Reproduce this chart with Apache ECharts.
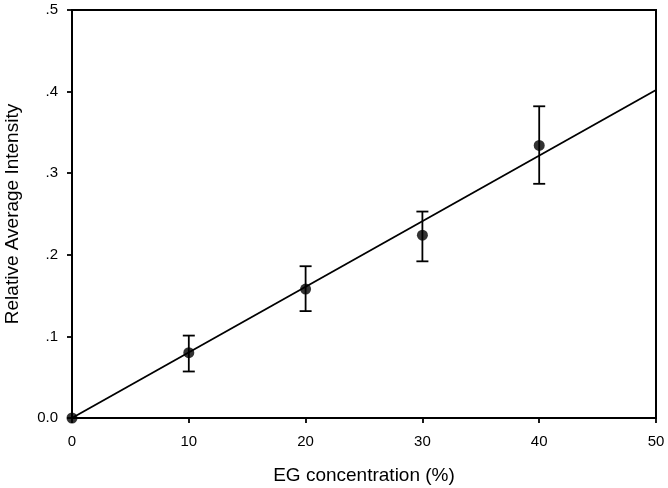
<!DOCTYPE html>
<html><head><meta charset="utf-8">
<script src="https://cdn.jsdelivr.net/npm/echarts@6/dist/echarts.min.js"></script>
<style>html,body{margin:0;padding:0;background:#fff}#c{width:668px;height:488px}</style>
</head><body><div id="c"></div>
<script>
var concentrations = [0, 10, 20, 30, 40];
var intensity = [0, 0.080, 0.158, 0.224, 0.334];
var errLow = [0, 0.057, 0.131, 0.192, 0.287];
var errHigh = [0, 0.101, 0.186, 0.253, 0.382];
var fitX = [0, 50];
var fitY = [0, 0.402];
var yTickLabels = {'0': '0.0', '0.1': '.1', '0.2': '.2', '0.3': '.3', '0.4': '.4', '0.5': '.5'};

var chart = echarts.init(document.getElementById('c'), null, {renderer: 'canvas'});
var font = 'Liberation Sans, Arial, sans-serif';
var errData = [];
for (var i = 0; i < concentrations.length; i++) {
  if (errHigh[i] !== errLow[i]) errData.push([concentrations[i], errLow[i], errHigh[i]]);
}
var axisCommon = {
  axisLine: {show: true, onZero: false, lineStyle: {color: '#000', width: 2}},
  axisTick: {show: true, inside: false, length: 5, lineStyle: {color: '#000', width: 1.8}},
  splitLine: {show: false}
};
chart.setOption({
  animation: false,
  grid: {left: 72, right: 12, top: 10, bottom: 70, containLabel: false, outerBoundsMode: 'none',
    show: true, borderColor: '#000', borderWidth: 2},
  xAxis: Object.assign({}, axisCommon, {
    type: 'value', min: 0, max: 50, interval: 10,
    name: 'EG concentration (%)', nameLocation: 'middle', nameGap: 48,
    nameTextStyle: {color: '#000', fontFamily: font, fontSize: 19},
    axisLabel: {color: '#000', fontFamily: font, fontSize: 15, margin: 16}
  }),
  yAxis: Object.assign({}, axisCommon, {
    type: 'value', min: 0, max: 0.5, interval: 0.1,
    name: 'Relative Average Intensity', nameLocation: 'middle', nameGap: 50,
    nameTextStyle: {color: '#000', fontFamily: font, fontSize: 19},
    axisLabel: {color: '#000', fontFamily: font, fontSize: 15, margin: 14,
      formatter: function (v) { var k = String(Math.round(v * 10) / 10); return yTickLabels[k] !== undefined ? yTickLabels[k] : v; }}
  }),
  series: [
    {
      type: 'line', data: fitX.map(function (x, i) { return [x, fitY[i]]; }),
      symbol: 'none', lineStyle: {color: '#000', width: 1.8}, z: 2
    },
    {
      type: 'custom', z: 3,
      renderItem: function (params, api) {
        var x = api.value(0);
        var lo = api.coord([x, api.value(1)]);
        var hi = api.coord([x, api.value(2)]);
        var w = 6;
        var st = {stroke: '#000', lineWidth: 1.8};
        return {type: 'group', children: [
          {type: 'line', shape: {x1: lo[0], y1: lo[1], x2: hi[0], y2: hi[1]}, style: st},
          {type: 'line', shape: {x1: lo[0] - w, y1: lo[1], x2: lo[0] + w, y2: lo[1]}, style: st},
          {type: 'line', shape: {x1: hi[0] - w, y1: hi[1], x2: hi[0] + w, y2: hi[1]}, style: st}
        ]};
      },
      data: errData
    },
    {
      type: 'scatter', data: concentrations.map(function (x, i) { return [x, intensity[i]]; }),
      symbol: 'circle', symbolSize: 11, itemStyle: {color: '#000'}, z: 4
    }
  ]
});
</script></body></html>
